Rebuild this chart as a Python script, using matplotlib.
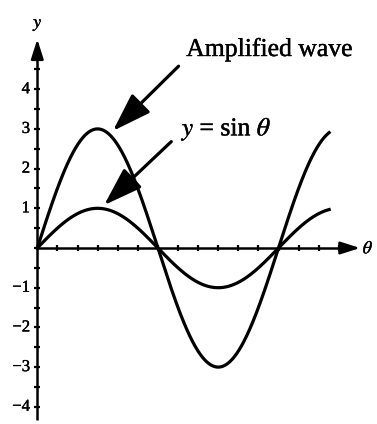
import matplotlib.pyplot as plt
import matplotlib.patheffects as pe
import numpy as np

plt.rcParams['font.family'] = ['Liberation Serif', 'DejaVu Serif']
plt.rcParams['mathtext.fontset'] = 'stix'

# curves: y = A sin(theta)
sine_amplitude = 1
amplified_amplitude = 3
theta_end = 2.42 * np.pi

# axis ticks
y_tick_labels = [-4, -3, -2, -1, 1, 2, 3, 4]
y_minor = np.arange(-4, 4.51, 0.5)
x_minor = np.arange(1, 16) * np.pi / 6

theta = np.linspace(0, theta_end, 600)
ink = [pe.withStroke(linewidth=0.3, foreground='black')]

fig = plt.figure(figsize=(3.77, 4.24), dpi=100)
ax = fig.add_axes([0, 0, 1, 1])
ax.set_xlim(-0.9717, 8.849)
ax.set_ylim(-4.433, 6.247)
ax.axis('off')

# axes with arrow heads
ax.plot([0, 0], [-4.33, 5.0], color='black', lw=1.8, solid_capstyle='butt')
ax.plot([0, 8.1], [0, 0], color='black', lw=1.8, solid_capstyle='butt')
head = dict(arrowstyle='-|>,head_length=0.85,head_width=0.27', color='black',
            lw=1.8, mutation_scale=14, shrinkA=0, shrinkB=0)
ax.annotate('', xy=(0, 5.26), xytext=(0, 4.8), arrowprops=head)
ax.annotate('', xy=(8.41, 0), xytext=(7.9, 0), arrowprops=head)

# tick marks crossing the axes
ax.plot(np.zeros_like(y_minor), y_minor, ls='none', marker='_', ms=5,
        mew=1.6, color='black')
ax.plot(x_minor, np.zeros_like(x_minor), ls='none', marker='|', ms=5,
        mew=1.6, color='black')
for v in y_tick_labels:
    ax.text(-0.19, v, str(v).replace('-', '\u2212'), ha='right', va='center',
            fontsize=12, path_effects=ink)

ax.text(0.02, 5.62, '$y$', ha='center', va='center', fontsize=13,
        path_effects=ink)
ax.text(8.62, -0.02, r'$\theta$', ha='center', va='center', fontsize=13,
        path_effects=ink)

# the two waves
ax.plot(theta, sine_amplitude * np.sin(theta), color='black', lw=2.3)
ax.plot(theta, amplified_amplitude * np.sin(theta), color='black', lw=2.3)

# labels with pointer arrows
pointer = dict(arrowstyle='-|>,head_length=1.2,head_width=0.4', color='black',
               lw=2.3, mutation_scale=20, shrinkA=0, shrinkB=0)
ax.annotate('', xy=(1.97, 2.95), xytext=(3.68, 4.58), arrowprops=pointer)
ax.annotate('', xy=(1.74, 1.08), xytext=(3.49, 2.68), arrowprops=pointer)
ax.text(3.88, 5.0, 'Amplified wave', ha='left', va='center', fontsize=18.5,
        path_effects=ink)
ax.text(3.76, 3.0, r'$y$ = sin $\theta$', ha='left', va='center',
        fontsize=18.5, path_effects=ink)

fig.savefig('out.png', dpi=100)
